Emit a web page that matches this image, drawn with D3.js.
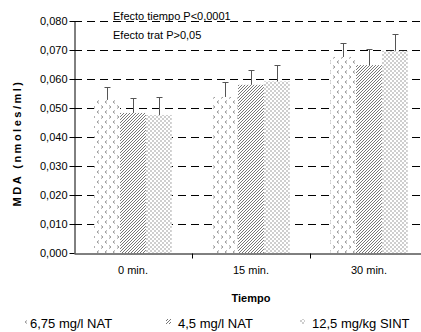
<!DOCTYPE html>
<html>
<head>
<meta charset="utf-8">
<script src="https://cdn.jsdelivr.net/npm/d3@7"></script>
<style>
  body { margin: 0; background: #fff; }
  svg { display: block; font-family: "Liberation Sans", Arial, sans-serif; }
</style>
</head>
<body>
<svg id="chart" width="421" height="332"></svg>
<script>
// datos
var tiempos = ["0 min.", "15 min.", "30 min."];
var grupos = ["6,75 mg/l NAT", "4,5 mg/l NAT", "12,5 mg/kg SINT"];
var mda6_75 = [0.0528, 0.0538, 0.0676];
var mda4_5 = [0.0483, 0.0580, 0.0648];
var mda12_5 = [0.0476, 0.0592, 0.0697];
var err6_75 = [0.0044, 0.0052, 0.0048];
var err4_5 = [0.0051, 0.0050, 0.0055];
var err12_5 = [0.0062, 0.0058, 0.0058];
var yTicks = [0, 0.01, 0.02, 0.03, 0.04, 0.05, 0.06, 0.07, 0.08];
var notas = ["Efecto tiempo P<0,0001", "Efecto trat P>0,05"];

var valores = [mda6_75, mda4_5, mda12_5];
var errores = [err6_75, err4_5, err12_5];
var rellenos = ["url(#chevron)", "url(#hatch)", "url(#dots)"];

var margin = { top: 21, right: -7, bottom: 79, left: 74 };
var width = 421, height = 332;

var svg = d3.select("#chart");
var defs = svg.append("defs");

// tramas de las barras
var p1 = defs.append("pattern").attr("id", "chevron").attr("patternUnits", "userSpaceOnUse")
    .attr("width", 8).attr("height", 10);
p1.append("rect").attr("width", 8).attr("height", 10).attr("fill", "#fff");
p1.append("path").attr("d", "M3,0.5 L1,2 L3,3.5 M5,5.5 L7,7 L5,8.5")
    .attr("fill", "none").attr("stroke", "#8a8a8a").attr("stroke-width", 0.9);

var p2 = defs.append("pattern").attr("id", "hatch").attr("patternUnits", "userSpaceOnUse")
    .attr("width", 3).attr("height", 3);
p2.append("rect").attr("width", 3).attr("height", 3).attr("fill", "#fff");
p2.append("path").attr("d", "M-1,1 L1,-1 M0,3 L3,0 M2,4 L4,2")
    .attr("stroke", "#666").attr("stroke-width", 0.9);

var p3 = defs.append("pattern").attr("id", "dots").attr("patternUnits", "userSpaceOnUse")
    .attr("width", 4).attr("height", 4);
p3.append("rect").attr("width", 4).attr("height", 4).attr("fill", "#fff");
p3.append("circle").attr("cx", 1).attr("cy", 1).attr("r", 0.7).attr("fill", "#777");
p3.append("circle").attr("cx", 3).attr("cy", 3).attr("r", 0.7).attr("fill", "#777");

var x = d3.scaleBand()
    .domain(tiempos)
    .range([margin.left, width - margin.right]);

var xi = d3.scaleBand()
    .domain(d3.range(grupos.length))
    .range([0, x.bandwidth()])
    .paddingOuter(0.78);

var y = d3.scaleLinear()
    .domain([0, 0.08])
    .range([height - margin.bottom, margin.top]);

var loc = d3.formatLocale({ decimal: ",", thousands: ".", grouping: [3], currency: ["", ""] });
var fmt = loc.format(".3f");

// lineas de cuadricula
svg.append("g")
    .selectAll("line")
    .data(yTicks.slice(1))
    .join("line")
    .attr("x1", margin.left)
    .attr("x2", width)
    .attr("y1", d => y(d) + 0.5)
    .attr("y2", d => y(d) + 0.5)
    .attr("stroke", "#000")
    .attr("stroke-dasharray", "8,5");

// barras
grupos.forEach((g, s) => {
    svg.append("g")
        .selectAll("rect")
        .data(valores[s])
        .join("rect")
        .attr("x", (d, i) => x(tiempos[i]) + xi(s))
        .attr("width", xi.bandwidth())
        .attr("y", d => y(d))
        .attr("height", d => y(0) - y(d))
        .attr("fill", rellenos[s]);

    var eb = svg.append("g").attr("stroke", "#555").attr("stroke-width", 1);
    valores[s].forEach((d, i) => {
        var cx = Math.round(x(tiempos[i]) + xi(s) + xi.bandwidth() / 2) + 0.5;
        var yt = Math.round(y(d + errores[s][i])) + 0.5;
        eb.append("line").attr("x1", cx).attr("x2", cx).attr("y1", y(d)).attr("y2", yt);
        eb.append("line").attr("x1", cx - 3).attr("x2", cx + 3).attr("y1", yt).attr("y2", yt);
    });
});

// ejes
var yAxis = svg.append("g")
    .attr("transform", `translate(${margin.left + 0.5},0)`)
    .call(d3.axisLeft(y).tickValues(yTicks).tickFormat(fmt).tickSize(5).tickSizeOuter(0));
yAxis.select(".domain").attr("stroke", "#000");
yAxis.selectAll("text").attr("font-size", "11px").attr("font-family", "Liberation Sans, Arial").attr("fill", "#000").attr("x", -7);

var xAxis = svg.append("g")
    .attr("transform", `translate(0,${y(0) + 0.5})`)
    .call(d3.axisBottom(x).tickSize(0).tickSizeOuter(0));
xAxis.select(".domain").attr("stroke", "#000");
xAxis.selectAll("text").attr("font-size", "11px").attr("font-family", "Liberation Sans, Arial").attr("fill", "#000").attr("dy", "1.55em");
xAxis.selectAll(".sep")
    .data(tiempos.slice(1))
    .join("line")
    .attr("class", "sep")
    .attr("x1", d => Math.round(x(d)) + 0.5)
    .attr("x2", d => Math.round(x(d)) + 0.5)
    .attr("y1", 0).attr("y2", 5)
    .attr("stroke", "#000");

// titulos
svg.append("text")
    .attr("x", x(tiempos[1]) + x.bandwidth() / 2)
    .attr("y", 302)
    .attr("text-anchor", "middle")
    .attr("font-size", "11px")
    .style("font-weight", "bold")
    .text("Tiempo");

svg.append("text")
    .attr("transform", "translate(21,143) rotate(-90)")
    .attr("text-anchor", "middle")
    .attr("font-size", "11px")
    .style("font-weight", "bold")
    .style("letter-spacing", "2.5px")
    .text("MDA (nmoles/ml)");

svg.append("g")
    .selectAll("text")
    .data(notas)
    .join("text")
    .attr("x", 113)
    .attr("y", (d, i) => 20 + i * 19)
    .attr("font-size", "11px")
    .text(d => d);

// leyenda
var legX = [24, 166, 300];
var leg = svg.append("g")
    .selectAll("g")
    .data(grupos)
    .join("g")
    .attr("transform", (d, i) => `translate(${legX[i]},0)`);
leg.append("rect")
    .attr("x", 0).attr("y", 319)
    .attr("width", 5).attr("height", 5)
    .attr("fill", (d, i) => rellenos[i]);
leg.append("text")
    .attr("x", (d, i) => i == 0 ? 6 : 12)
    .attr("y", 328)
    .attr("font-size", "13px")
    .text(d => d);
</script>
</body>
</html>
